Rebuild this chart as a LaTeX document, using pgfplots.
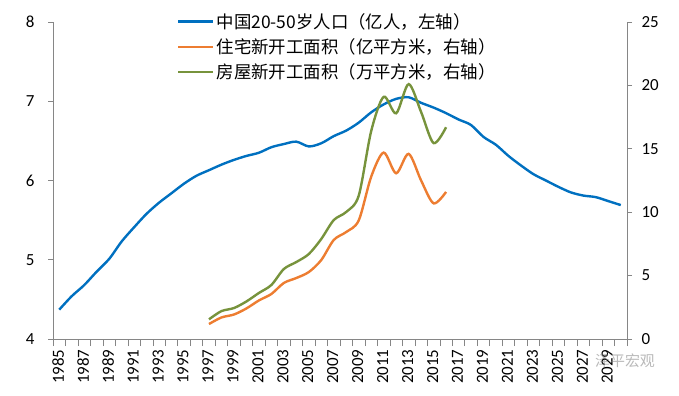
\documentclass[border=0pt]{standalone}
\usepackage{pgfplots}
\usepackage{pgfplotstable}
\pgfplotsset{compat=1.18}
\usepackage{fontspec}
\setmainfont{Carlito}
\newfontfamily\cjk{Noto Sans CJK SC}
\definecolor{cblue}{RGB}{0,112,192}
\definecolor{corange}{RGB}{237,125,49}
\definecolor{cgreen}{RGB}{119,147,60}
\definecolor{axgray}{RGB}{134,134,134}

\pgfplotstableread{
year pop
1985 4.37
1986 4.54
1987 4.68
1988 4.85
1989 5.01
1990 5.23
1991 5.41
1992 5.58
1993 5.72
1994 5.84
1995 5.96
1996 6.06
1997 6.13
1998 6.20
1999 6.26
2000 6.31
2001 6.35
2002 6.42
2003 6.46
2004 6.49
2005 6.43
2006 6.47
2007 6.56
2008 6.63
2009 6.73
2010 6.86
2011 6.96
2012 7.03
2013 7.05
2014 6.98
2015 6.92
2016 6.85
2017 6.77
2018 6.70
2019 6.55
2020 6.45
2021 6.31
2022 6.19
2023 6.08
2024 6.00
2025 5.92
2026 5.85
2027 5.81
2028 5.79
2029 5.74
2030 5.69
}\poptable

\pgfplotstableread{
year res
1997 1.18
1998 1.70
1999 1.93
2000 2.41
2001 3.04
2002 3.55
2003 4.42
2004 4.81
2005 5.28
2006 6.23
2007 7.81
2008 8.44
2009 9.35
2010 12.8
2011 14.7
2012 13.07
2013 14.6
2014 12.5
2015 10.7
2016 11.6
}\restable

\pgfplotstableread{
year bld
1997 1.55
1998 2.20
1999 2.44
2000 2.96
2001 3.63
2002 4.26
2003 5.52
2004 6.07
2005 6.70
2006 7.89
2007 9.38
2008 10.02
2009 11.3
2010 16.4
2011 19.1
2012 17.8
2013 20.1
2014 17.9
2015 15.45
2016 16.7
}\bldtable

\begin{document}
\begin{tikzpicture}
\useasboundingbox (-53bp,-57bp) rectangle (626bp,339bp);
\begin{axis}[
  scale only axis, width=574bp, height=317bp,
  xmin=1984.5, xmax=2030.5, ymin=4, ymax=8,
  axis x line*=bottom, axis y line*=left,
  axis line style={draw=axgray, line width=0.8bp},
  tick align=outside,
  xtick={1985,1987,...,2029},
  major x tick style={draw=none},
  minor xtick={1984.5,1985.5,...,2030.5},
  minor x tick style={draw=axgray, line width=0.6bp},
  minor tick length=7bp,
  ytick={4,5,6,7,8},
  major y tick style={draw=axgray, line width=0.6bp},
  major tick length=5bp,
  /pgf/number format/assume math mode=true,
  /pgf/number format/1000 sep={},
  xticklabel style={rotate=90, anchor=east, font=\fontsize{17}{17}\selectfont, yshift=1bp, xshift=-2bp},
  yticklabel style={font=\fontsize{17}{17}\selectfont, xshift=-10bp},
]
\addplot[cblue, line width=2.4bp, smooth, tension=0.5] table[x=year, y=pop] {\poptable};
\end{axis}
\begin{axis}[
  scale only axis, width=574bp, height=317bp,
  xmin=1984.5, xmax=2030.5, ymin=0, ymax=25,
  axis x line=none, axis y line*=right,
  axis line style={draw=axgray, line width=0.8bp},
  tick align=outside,
  ytick={0,5,...,25},
  major y tick style={draw=axgray, line width=0.6bp},
  major tick length=5bp,
  /pgf/number format/assume math mode=true,
  yticklabel style={font=\fontsize{17}{17}\selectfont, xshift=6bp},
  legend style={at={(rel axis cs:0.216,1.035)}, anchor=north west, draw=none, fill=none,
    font=\cjk\fontsize{17.5}{19}\selectfont, row sep=5bp, inner sep=0pt},
  legend cell align=left,
  legend image code/.code={\draw[#1] (0bp,0bp) -- (35bp,0bp);},
]
\addlegendimage{cblue, line width=2.4bp}
\addlegendentry{中国20-50岁人口（亿人，左轴）}
\addplot[corange, line width=2.4bp, smooth, tension=0.5] table[x=year, y=res] {\restable};
\addlegendentry{住宅新开工面积（亿平方米，右轴）}
\addplot[cgreen, line width=2.4bp, smooth, tension=0.5] table[x=year, y=bld] {\bldtable};
\addlegendentry{房屋新开工面积（万平方米，右轴）}
\end{axis}
\node[text=gray, opacity=0.55, font=\cjk\fontsize{15}{15}\selectfont] at (572bp,-22bp) {泽平宏观};
\end{tikzpicture}
\end{document}
